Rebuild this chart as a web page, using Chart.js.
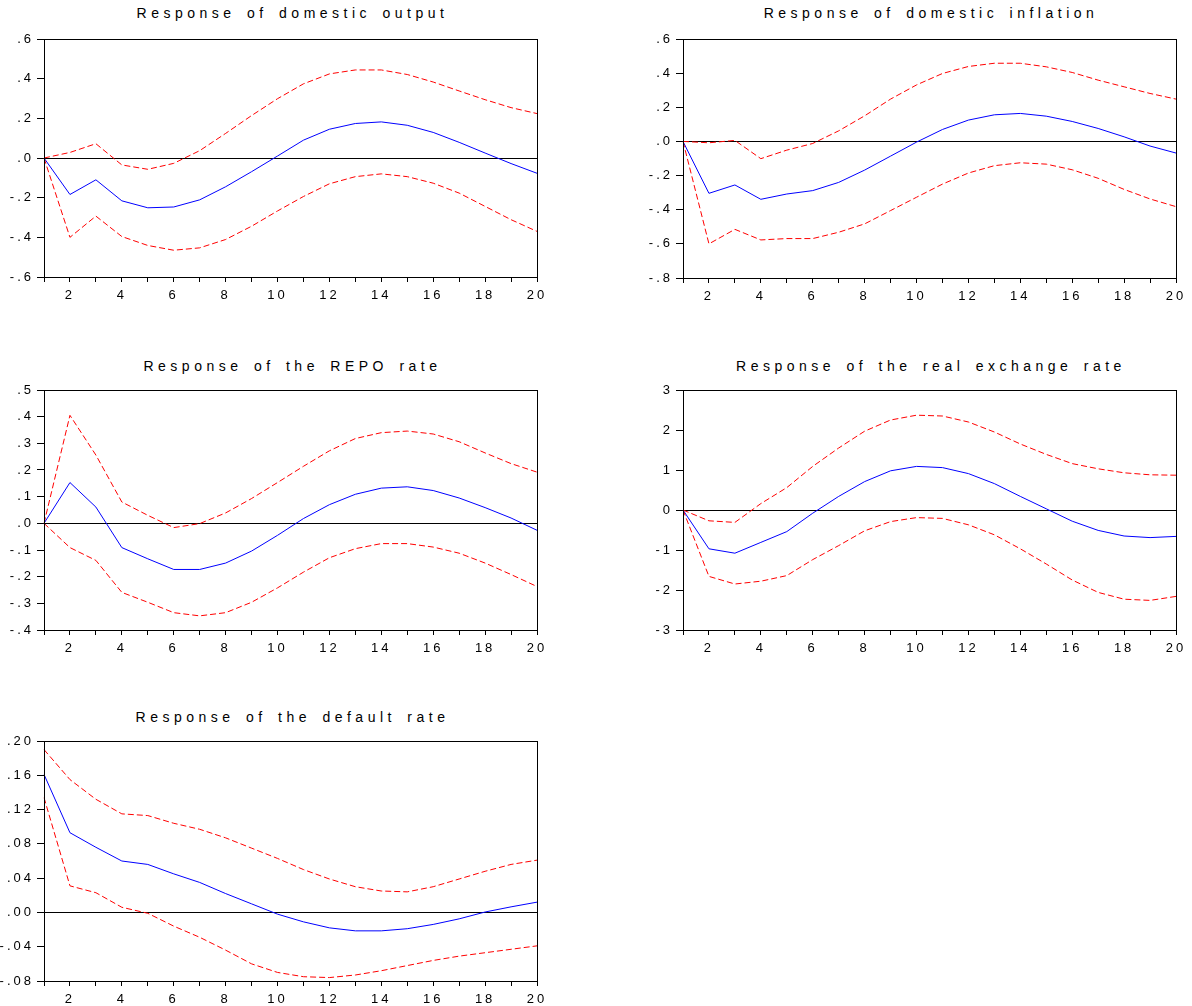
<!DOCTYPE html>
<html>
<head>
<meta charset="utf-8">
<script src="https://cdn.jsdelivr.net/npm/chart.js@4/dist/chart.umd.min.js"></script>
<style>
  html, body { margin:0; padding:0; background:#fff; width:1192px; height:1006px; overflow:hidden; }
  .panel { position:absolute; }
  .title { position:absolute; font-family:"Liberation Sans", Arial, sans-serif; font-size:14px; letter-spacing:4.5px; word-spacing:3px; color:#000; text-align:center; white-space:nowrap; line-height:16px; padding-left:4px; box-sizing:border-box; }
</style>
</head>
<body>
<div class="title" style="left:44px;top:5px;width:493px;">Response of domestic output</div>
<div class="title" style="left:683px;top:5px;width:492px;">Response of domestic inflation</div>
<div class="title" style="left:44px;top:358px;width:493px;">Response of the REPO rate</div>
<div class="title" style="left:683px;top:358px;width:492px;">Response of the real exchange rate</div>
<div class="title" style="left:44px;top:709px;width:493px;">Response of the default rate</div>

<div class="panel" style="left:0px;top:0px;width:553px;height:310px;"><canvas id="c1"></canvas></div>
<div class="panel" style="left:639px;top:0px;width:553px;height:310px;"><canvas id="c2"></canvas></div>
<div class="panel" style="left:0px;top:350px;width:553px;height:310px;"><canvas id="c3"></canvas></div>
<div class="panel" style="left:639px;top:350px;width:553px;height:310px;"><canvas id="c4"></canvas></div>
<div class="panel" style="left:0px;top:700px;width:553px;height:306px;"><canvas id="c5"></canvas></div>

<script>
// ---------- DATA ----------
const periods = ['1','2','3','4','5','6','7','8','9','10','11','12','13','14','15','16','17','18','19','20'];

const outputMid   = [0, -0.184, -0.110, -0.216, -0.251, -0.247, -0.211, -0.145, -0.069, 0.010, 0.090, 0.145, 0.174, 0.182, 0.165, 0.129, 0.079, 0.025, -0.028, -0.077];
const outputUpper = [0, 0.028, 0.072, -0.035, -0.057, -0.027, 0.037, 0.124, 0.214, 0.299, 0.374, 0.424, 0.444, 0.444, 0.421, 0.383, 0.338, 0.294, 0.254, 0.224];
const outputLower = [0, -0.400, -0.293, -0.396, -0.441, -0.465, -0.453, -0.411, -0.344, -0.267, -0.194, -0.130, -0.094, -0.080, -0.094, -0.127, -0.177, -0.244, -0.311, -0.370];
const outputTicks = [-0.6, -0.4, -0.2, 0, 0.2, 0.4, 0.6];

const inflationMid   = [0, -0.304, -0.255, -0.339, -0.308, -0.288, -0.240, -0.168, -0.086, -0.004, 0.070, 0.125, 0.156, 0.164, 0.148, 0.117, 0.076, 0.027, -0.027, -0.068];
const inflationUpper = [0, -0.008, 0.006, -0.101, -0.051, -0.012, 0.062, 0.150, 0.248, 0.331, 0.398, 0.439, 0.458, 0.458, 0.437, 0.404, 0.359, 0.320, 0.281, 0.248];
const inflationLower = [0, -0.600, -0.515, -0.577, -0.569, -0.569, -0.532, -0.483, -0.405, -0.327, -0.250, -0.185, -0.142, -0.125, -0.133, -0.166, -0.216, -0.281, -0.337, -0.382];
const inflationTicks = [-0.8, -0.6, -0.4, -0.2, 0, 0.2, 0.4, 0.6];

const repoMid   = [0, 0.153, 0.061, -0.091, -0.133, -0.173, -0.173, -0.149, -0.104, -0.045, 0.018, 0.070, 0.109, 0.132, 0.137, 0.123, 0.095, 0.059, 0.020, -0.026];
const repoUpper = [0, 0.405, 0.256, 0.080, 0.030, -0.016, -0.001, 0.039, 0.093, 0.153, 0.214, 0.272, 0.318, 0.340, 0.346, 0.335, 0.306, 0.264, 0.224, 0.192];
const repoLower = [0, -0.091, -0.139, -0.259, -0.296, -0.335, -0.347, -0.335, -0.296, -0.242, -0.183, -0.129, -0.095, -0.076, -0.076, -0.089, -0.112, -0.149, -0.192, -0.237];
const repoTicks = [-0.4, -0.3, -0.2, -0.1, 0, 0.1, 0.2, 0.3, 0.4, 0.5];

const rerMid   = [0, -0.97, -1.08, -0.81, -0.54, -0.08, 0.34, 0.71, 0.98, 1.09, 1.06, 0.91, 0.66, 0.34, 0.03, -0.28, -0.51, -0.65, -0.69, -0.66];
const rerUpper = [0, -0.27, -0.31, 0.16, 0.56, 1.09, 1.55, 1.97, 2.25, 2.37, 2.35, 2.20, 1.95, 1.65, 1.39, 1.16, 1.03, 0.93, 0.88, 0.87];
const rerLower = [0, -1.66, -1.85, -1.78, -1.64, -1.24, -0.89, -0.52, -0.29, -0.19, -0.21, -0.37, -0.62, -0.97, -1.35, -1.75, -2.06, -2.23, -2.26, -2.16];
const rerTicks = [-3, -2, -1, 0, 1, 2, 3];

const defaultMid   = [0.161, 0.093, 0.076, 0.060, 0.056, 0.045, 0.035, 0.022, 0.010, -0.002, -0.011, -0.018, -0.0215, -0.0215, -0.019, -0.014, -0.0075, 0.0005, 0.0065, 0.012];
const defaultUpper = [0.190, 0.155, 0.132, 0.115, 0.113, 0.104, 0.097, 0.087, 0.075, 0.063, 0.050, 0.039, 0.030, 0.025, 0.024, 0.030, 0.039, 0.048, 0.056, 0.061];
const defaultLower = [0.134, 0.031, 0.023, 0.006, -0.001, -0.016, -0.029, -0.044, -0.060, -0.070, -0.075, -0.076, -0.073, -0.068, -0.062, -0.056, -0.051, -0.047, -0.043, -0.039];
const defaultTicks = [-0.08, -0.04, 0, 0.04, 0.08, 0.12, 0.16, 0.20];

// ---------- RENDERING ----------
function fmt(v, d) {
  let s = Math.abs(v) < 1e-9 ? (0).toFixed(d) : v.toFixed(d);
  if (d > 0) s = s.replace(/^(-?)0\./, '$1.');
  return s;
}

const framePlugin = {
  id: 'frame',
  beforeDraw(chart) { chart.ctx.letterSpacing = '3px'; },
  beforeDatasetsDraw(chart) {
    const ctx = chart.ctx, a = chart.chartArea, y = chart.scales.y;
    const yz = Math.round(y.getPixelForValue(0)) + 0.5;
    ctx.save();
    ctx.strokeStyle = '#000';
    ctx.lineWidth = 1;
    ctx.beginPath();
    ctx.moveTo(a.left, yz);
    ctx.lineTo(a.right, yz);
    ctx.stroke();
    ctx.restore();
  },
  afterDraw(chart) {
    const ctx = chart.ctx, a = chart.chartArea;
    ctx.save();
    ctx.strokeStyle = '#000';
    ctx.lineWidth = 1;
    ctx.strokeRect(Math.round(a.left) + 0.5, Math.round(a.top) + 0.5, Math.round(a.right - a.left), Math.round(a.bottom - a.top));
    ctx.restore();
  }
};

function makePanel(id, mid, lo, hi, ticks, dec, padTop, padBottom) {
  const lineBase = { pointRadius: 0, borderWidth: 1, tension: 0, fill: false };
  new Chart(document.getElementById(id), {
    type: 'line',
    data: {
      labels: periods,
      datasets: [
        Object.assign({ data: hi, borderColor: '#ff0000', borderDash: [6, 3] }, lineBase),
        Object.assign({ data: lo, borderColor: '#ff0000', borderDash: [6, 3] }, lineBase),
        Object.assign({ data: mid, borderColor: '#0000ff' }, lineBase)
      ]
    },
    options: {
      responsive: true,
      maintainAspectRatio: false,
      animation: false,
      events: [],
      layout: { padding: { left: 0, right: 16, top: padTop, bottom: padBottom } },
      plugins: { legend: { display: false }, tooltip: { enabled: false }, title: { display: false } },
      scales: {
        x: {
          type: 'category',
          offset: false,
          grid: { drawOnChartArea: false, drawTicks: true, tickLength: 5, color: '#000', lineWidth: 1 },
          border: { display: true, color: '#000' },
          ticks: {
            autoSkip: false, maxRotation: 0, minRotation: 0, padding: 6, color: '#000',
            font: { family: '"Liberation Sans", Arial, sans-serif', size: 13 },
            callback: function (val, idx) { const l = periods[idx]; return (+l) % 2 === 0 ? l : ''; }
          },
          afterFit: function (s) { s.height = 25; }
        },
        y: {
          min: ticks[0], max: ticks[ticks.length - 1],
          grid: { drawOnChartArea: false, drawTicks: true, tickLength: 7, color: '#000', lineWidth: 1 },
          border: { display: true, color: '#000' },
          afterBuildTicks: function (s) { s.ticks = ticks.map(v => ({ value: v })); },
          ticks: {
            padding: 3, color: '#000',
            font: { family: '"Liberation Sans", Arial, sans-serif', size: 13 },
            callback: function (v) { return fmt(v, dec); }
          },
          afterFit: function (s) { s.width = 44; }
        }
      }
    },
    plugins: [framePlugin]
  });
}

makePanel('c1', outputMid, outputLower, outputUpper, outputTicks, 1, 39, 8);
makePanel('c2', inflationMid, inflationLower, inflationUpper, inflationTicks, 1, 39, 7);
makePanel('c3', repoMid, repoLower, repoUpper, repoTicks, 1, 40, 5);
makePanel('c4', rerMid, rerLower, rerUpper, rerTicks, 0, 40, 5);
makePanel('c5', defaultMid, defaultLower, defaultUpper, defaultTicks, 2, 41, 0);
</script>
</body>
</html>
